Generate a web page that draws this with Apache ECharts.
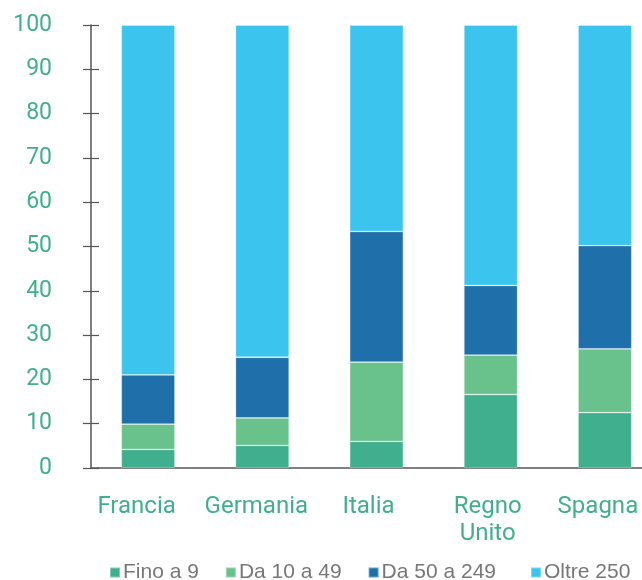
<!DOCTYPE html>
<html>
<head>
<meta charset="utf-8">
<script src="https://cdn.jsdelivr.net/npm/echarts@6/dist/echarts.min.js"></script>
<style>html,body{margin:0;padding:0;background:#fff}#c{width:642px;height:580px}</style>
</head>
<body>
<div id="c"></div>
<script>
const categories = ['Francia', 'Germania', 'Italia', 'Regno\nUnito', 'Spagna'];
const seriesNames = ['Fino a 9', 'Da 10 a 49', 'Da 50 a 249', 'Oltre 250'];
const fino9 = [4.2, 5.1, 6.0, 16.6, 12.5];
const da10a49 = [5.7, 6.2, 17.9, 8.9, 14.4];
const da50a249 = [11.1, 13.7, 29.5, 15.7, 23.3];
const oltre250 = [79.0, 75.0, 46.6, 58.8, 49.8];
const yTicks = [0, 10, 20, 30, 40, 50, 60, 70, 80, 90, 100];

const colors = ['#40AF8E', '#69C18C', '#1F70AA', '#3BC5EE'];
const values = [fino9, da10a49, da50a249, oltre250];
const green = '#41AF8D';
// label style: right padding to nudge each centred label left, as in the reference
const labelPadRight = {'Francia': 23, 'Germania': 12, 'Italia': 16, 'Regno\nUnito': 6, 'Spagna': 14};

const legendBase = {
  top: 557,
  itemWidth: 10, itemHeight: 10, itemGap: 26,
  icon: 'rect',
  textStyle: {color: '#777777', fontSize: 21, fontFamily: 'Liberation Sans', padding: [0, 0, 0, -2]}
};

const chart = echarts.init(document.getElementById('c'), null, {renderer: 'canvas'});
chart.setOption({
  animation: false,
  color: colors,
  grid: {left: 91, width: 571, top: 25, height: 443, containLabel: false, outerBoundsMode: 'none'},
  legend: [
    Object.assign({}, legendBase, {left: 104, data: seriesNames.slice(0, 3)}),
    Object.assign({}, legendBase, {left: 525, data: seriesNames.slice(3)})
  ],
  xAxis: {
    type: 'category',
    data: categories.map(c => ({value: c, textStyle: {padding: [0, labelPadRight[c], 0, 0]}})),
    axisLine: {show: true, lineStyle: {color: '#555555', width: 1.5}},
    axisTick: {show: false},
    axisLabel: {color: green, fontSize: 24, fontFamily: 'Roboto', margin: 25, lineHeight: 27, interval: 0, hideOverlap: false}
  },
  yAxis: [{
    type: 'value', min: 0, max: 100, interval: 10,
    axisLine: {show: true, lineStyle: {color: '#555555', width: 1.5}},
    axisTick: {show: true, length: 8, lineStyle: {color: '#555555', width: 1.2}},
    splitLine: {show: false},
    axisLabel: {color: green, fontSize: 23, fontFamily: 'Roboto', margin: 39,
      formatter: v => yTicks.includes(v) ? String(v) : ''}
  }, {
    type: 'value', min: 0, max: 100, interval: 10, position: 'left',
    axisLine: {show: false},
    axisTick: {show: true, inside: true, length: 8, lineStyle: {color: '#555555', width: 1.2}},
    splitLine: {show: false},
    axisLabel: {show: false}
  }],
  series: seriesNames.map((name, i) => ({
    name: name,
    type: 'bar',
    stack: 'total',
    barWidth: '47%',
    data: values[i],
    itemStyle: {color: colors[i], borderColor: 'rgba(255,255,255,0.35)', borderWidth: 0.8}
  }))
});
</script>
</body>
</html>
